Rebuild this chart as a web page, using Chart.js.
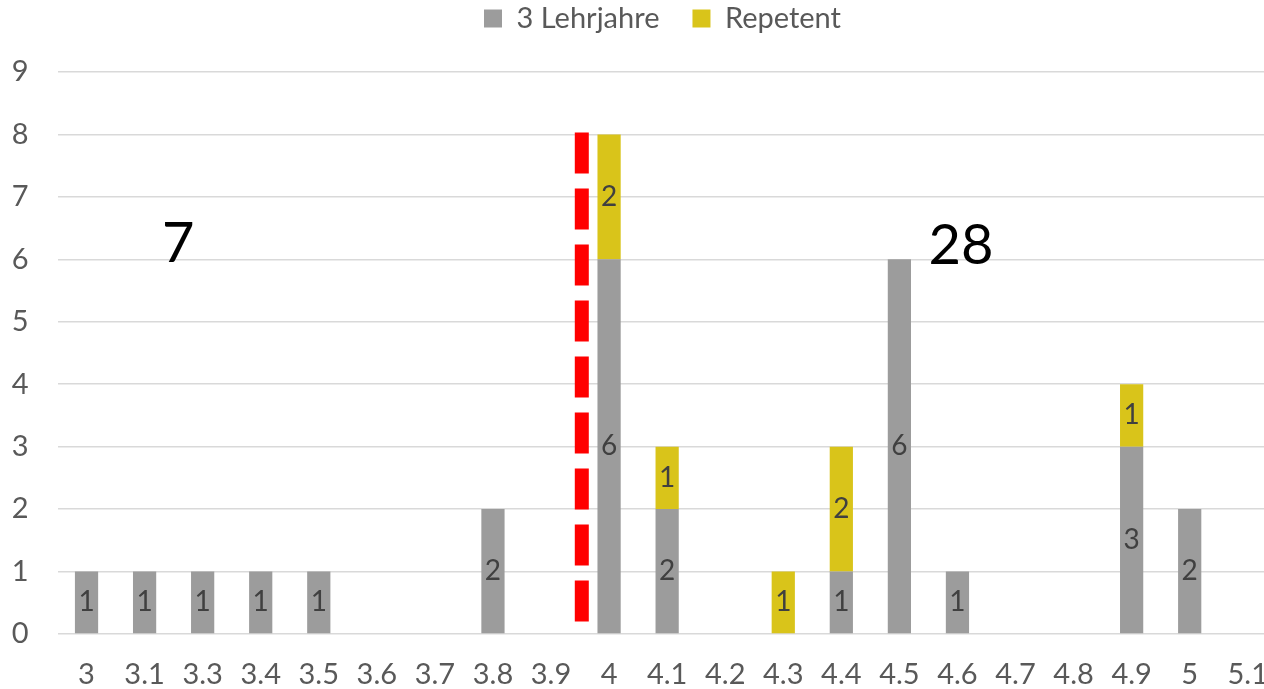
<!DOCTYPE html>
<html>
<head>
<meta charset="utf-8">
<script src="https://cdn.jsdelivr.net/npm/chart.js@4/dist/chart.umd.min.js"></script>
<style>
  html, body { margin: 0; padding: 0; overflow: hidden; background: #fff; }
  #wrap { width: 1283px; height: 689px; }
</style>
</head>
<body>
<div id="wrap"><canvas id="noten"></canvas></div>
<script>
const grades = ["3", "3.1", "3.3", "3.4", "3.5", "3.6", "3.7", "3.8", "3.9", "4", "4.1", "4.2", "4.3", "4.4", "4.5", "4.6", "4.7", "4.8", "4.9", "5", "5.1"];
const lehrjahre = [1, 1, 1, 1, 1, 0, 0, 2, 0, 6, 2, 0, 0, 1, 6, 1, 0, 0, 3, 2, 0];
const repetent = [0, 0, 0, 0, 0, 0, 0, 0, 0, 2, 1, 0, 1, 2, 0, 0, 0, 0, 1, 0, 0];
const yTicks = [0, 1, 2, 3, 4, 5, 6, 7, 8, 9];

// big counts below / above the pass mark (category index, value)
const countLabels = ["7", "28"];
const countX = [1.58, 15.06];
const countY = [6.25, 6.22];

// dashed pass line between 3.9 and 4
const passX = 8.53;
const passY = [0.2, 8.03];

const FONT = "Lato, 'Open Sans', sans-serif";

const barLabels = {
  id: "barLabels",
  afterDatasetsDraw(chart) {
    const ctx = chart.ctx;
    ctx.save();
    ctx.font = "28px " + FONT;
    ctx.fillStyle = "#404040";
    ctx.textAlign = "center";
    ctx.textBaseline = "middle";
    chart.data.datasets.forEach((ds, i) => {
      chart.getDatasetMeta(i).data.forEach((bar, j) => {
        const v = ds.data[j];
        if (!v) return;
        ctx.fillText(String(v), bar.x, (bar.y + bar.base) / 2);
      });
    });
    ctx.restore();
  }
};

const extras = {
  id: "extras",
  afterDraw(chart) {
    const ctx = chart.ctx;
    const xs = chart.scales.x, ys = chart.scales.y;
    ctx.save();
    // pass line
    const px = xs.getPixelForValue(passX);
    ctx.strokeStyle = "#FF0000";
    ctx.lineWidth = 14;
    ctx.setLineDash([41, 15]);
    ctx.beginPath();
    ctx.moveTo(px, ys.getPixelForValue(passY[1]));
    ctx.lineTo(px, ys.getPixelForValue(passY[0]));
    ctx.stroke();
    // counts
    ctx.setLineDash([]);
    ctx.font = "56px " + FONT;
    ctx.fillStyle = "#000";
    ctx.textAlign = "center";
    ctx.textBaseline = "middle";
    countLabels.forEach((t, i) => {
      ctx.fillText(t, xs.getPixelForValue(countX[i]), ys.getPixelForValue(countY[i]));
    });
    ctx.restore();
  }
};

// legend sits a bit right of centre and high up, like in Excel
const legendShift = {
  id: "legendShift",
  afterLayout(chart) {
    const l = chart.legend;
    l.left += 21; l.right += 21;
    l.top -= 29; l.bottom -= 29;
  }
};

new Chart(document.getElementById("noten"), {
  type: "bar",
  data: {
    labels: grades,
    datasets: [
      { label: "3 Lehrjahre", data: lehrjahre, backgroundColor: "#9C9C9C" },
      { label: "Repetent", data: repetent, backgroundColor: "#D9C41A" }
    ]
  },
  options: {
    responsive: true,
    maintainAspectRatio: false,
    animation: false,
    events: [],
    barPercentage: 0.4,
    categoryPercentage: 1,
    layout: { padding: 0 },
    plugins: {
      tooltip: { enabled: false },
      legend: {
        position: "top",
        labels: {
          boxWidth: 18,
          boxHeight: 18,
          padding: 33,
          color: "#595959",
          font: { family: FONT, size: 29 }
        }
      }
    },
    scales: {
      x: {
        stacked: true,
        grid: { display: false },
        border: { display: false },
        ticks: { color: "#595959", font: { family: FONT, size: 29 }, padding: 15, maxRotation: 0, autoSkip: false },
        afterFit(s) { s.height = 55; }
      },
      y: {
        stacked: true,
        min: 0,
        max: 9,
        afterBuildTicks(s) { s.ticks = yTicks.map(v => ({ value: v })); },
        grid: { color: "#D9D9D9", lineWidth: 1.5, drawTicks: false },
        border: { display: false },
        ticks: { color: "#595959", font: { family: FONT, size: 29 }, padding: 29 },
        afterFit(s) { s.width = 57.5; }
      }
    }
  },
  plugins: [barLabels, extras, legendShift]
});
</script>
</body>
</html>
